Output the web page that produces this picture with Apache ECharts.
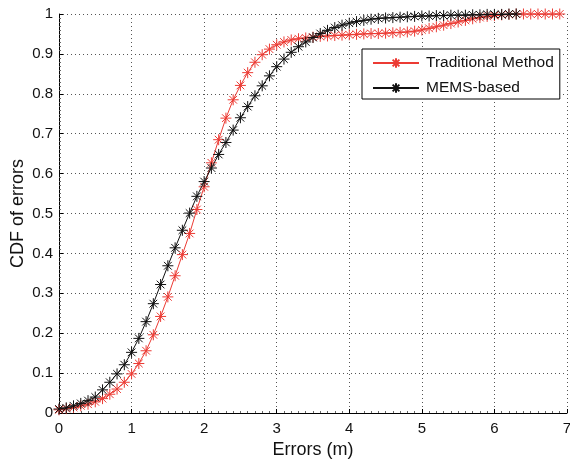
<!DOCTYPE html>
<html>
<head>
<meta charset="utf-8">
<script src="https://cdn.jsdelivr.net/npm/echarts@6/dist/echarts.min.js"></script>
<style>
html,body{margin:0;padding:0;background:#fff;}
#chart{width:570px;height:461px;}
</style>
</head>
<body>
<div id="chart"></div>
<script>
var seriesNames = ['Traditional Method', 'MEMS-based'];
var xTicks = [0, 1, 2, 3, 4, 5, 6, 7];
var yTicks = [0, 0.1, 0.2, 0.3, 0.4, 0.5, 0.6, 0.7, 0.8, 0.9, 1];

var tradErrors = [0,0.1,0.2,0.3,0.4,0.5,0.6,0.7,0.8,0.9,1,1.1,1.2,1.3,1.4,1.5,1.6,1.7,1.8,1.9,2,2.1,2.2,2.3,2.4,2.5,2.6,2.7,2.8,2.9,3,3.1,3.2,3.3,3.4,3.5,3.6,3.7,3.8,3.9,4,4.1,4.2,4.3,4.4,4.5,4.6,4.7,4.8,4.9,5,5.1,5.2,5.3,5.4,5.5,5.6,5.7,5.8,5.9,6,6.1,6.2,6.3,6.4,6.5,6.6,6.7,6.8,6.9];
var tradCdf = [0.008,0.011,0.014,0.018,0.022,0.028,0.036,0.047,0.060,0.077,0.098,0.124,0.156,0.196,0.242,0.291,0.344,0.397,0.450,0.510,0.567,0.627,0.685,0.739,0.785,0.821,0.853,0.879,0.898,0.912,0.923,0.930,0.935,0.938,0.940,0.942,0.944,0.945,0.946,0.947,0.948,0.949,0.950,0.951,0.951,0.952,0.953,0.954,0.955,0.957,0.960,0.964,0.968,0.972,0.976,0.980,0.984,0.988,0.991,0.994,0.996,0.998,0.999,1,1,1,1,1,1,1];

var memsErrors = [0,0.1,0.2,0.3,0.4,0.5,0.6,0.7,0.8,0.9,1,1.1,1.2,1.3,1.4,1.5,1.6,1.7,1.8,1.9,2,2.1,2.2,2.3,2.4,2.5,2.6,2.7,2.8,2.9,3,3.1,3.2,3.3,3.4,3.5,3.6,3.7,3.8,3.9,4,4.1,4.2,4.3,4.4,4.5,4.6,4.7,4.8,4.9,5,5.1,5.2,5.3,5.4,5.5,5.6,5.7,5.8,5.9,6,6.1,6.2,6.3];
var memsCdf = [0.010,0.013,0.018,0.024,0.031,0.040,0.058,0.077,0.098,0.121,0.152,0.187,0.229,0.274,0.322,0.369,0.414,0.458,0.501,0.543,0.580,0.614,0.648,0.678,0.709,0.740,0.768,0.795,0.820,0.845,0.868,0.887,0.904,0.918,0.930,0.941,0.951,0.959,0.966,0.972,0.977,0.981,0.984,0.987,0.989,0.990,0.991,0.992,0.993,0.994,0.995,0.995,0.996,0.996,0.997,0.997,0.997,0.998,0.998,0.999,0.999,0.999,1,1];

function pairs(xs, ys) { return xs.map(function (x, i) { return [x, ys[i]]; }); }

var star = 'path://M5,0L5,10M0,5L10,5M1.5,1.5L8.5,8.5M1.5,8.5L8.5,1.5';
var red = '#ec3b34';
var black = '#111111';
var font = 'Liberation Sans, Arial, Helvetica, sans-serif';

var chart = echarts.init(document.getElementById('chart'), null, {renderer: 'canvas'});
chart.setOption({
  animation: false,
  backgroundColor: '#ffffff',
  grid: {left: 59, right: 3, top: 14, bottom: 48, containLabel: false, outerBoundsMode: 'none'},
  legend: {
    orient: 'vertical',
    left: 362, top: 49,
    width: 195,
    padding: [6, 6, 3, 10],
    itemGap: 9,
    itemWidth: 46,
    itemHeight: 12,
    borderColor: '#000',
    borderWidth: 1,
    backgroundColor: '#fff',
    textStyle: {fontFamily: font, fontSize: 15.5, color: '#111', padding: [0, 0, 0, 2]},
    data: seriesNames
  },
  xAxis: {
    type: 'value', min: xTicks[0], max: xTicks[xTicks.length - 1], interval: 1,
    name: 'Errors (m)', nameLocation: 'middle', nameGap: 28, nameMoveOverlap: false,
    nameTextStyle: {fontFamily: font, fontSize: 18, color: '#111'},
    axisLine: {onZero: false, lineStyle: {color: '#000', width: 1}},
    axisTick: {inside: true, length: 4, lineStyle: {color: '#000'}},
    minorTick: {show: true, splitNumber: 10, length: 2, lineStyle: {color: '#666'}},
    axisLabel: {fontFamily: font, fontSize: 15, color: '#111', margin: 8},
    splitLine: {show: true, lineStyle: {color: '#555', type: [1, 3], width: 1}}
  },
  yAxis: {
    type: 'value', min: yTicks[0], max: yTicks[yTicks.length - 1], interval: 0.1,
    name: 'CDF of errors', nameLocation: 'middle', nameGap: 32, nameMoveOverlap: false,
    nameTextStyle: {fontFamily: font, fontSize: 18, color: '#111'},
    axisLine: {show: true, onZero: false, lineStyle: {color: '#000', width: 1}},
    axisTick: {show: true, inside: true, length: 4, lineStyle: {color: '#000'}},
    minorTick: {show: true, splitNumber: 10, length: 2, lineStyle: {color: '#666'}},
    axisLabel: {fontFamily: font, fontSize: 15, color: '#111', margin: 6,
      formatter: function (v) { return String(Math.round(v * 10) / 10); }},
    splitLine: {show: true, lineStyle: {color: '#555', type: [1, 3], width: 1}}
  },
  series: [
    {
      name: seriesNames[0], type: 'line', data: pairs(tradErrors, tradCdf),
      symbol: star, symbolSize: 11, showAllSymbol: true,
      lineStyle: {color: red, width: 1},
      itemStyle: {color: red, borderColor: red, borderWidth: 1},
      z: 2
    },
    {
      name: seriesNames[1], type: 'line', data: pairs(memsErrors, memsCdf),
      symbol: star, symbolSize: 11, showAllSymbol: true,
      lineStyle: {color: black, width: 1},
      itemStyle: {color: black, borderColor: black, borderWidth: 1},
      z: 3
    }
  ]
});
</script>
</body>
</html>
